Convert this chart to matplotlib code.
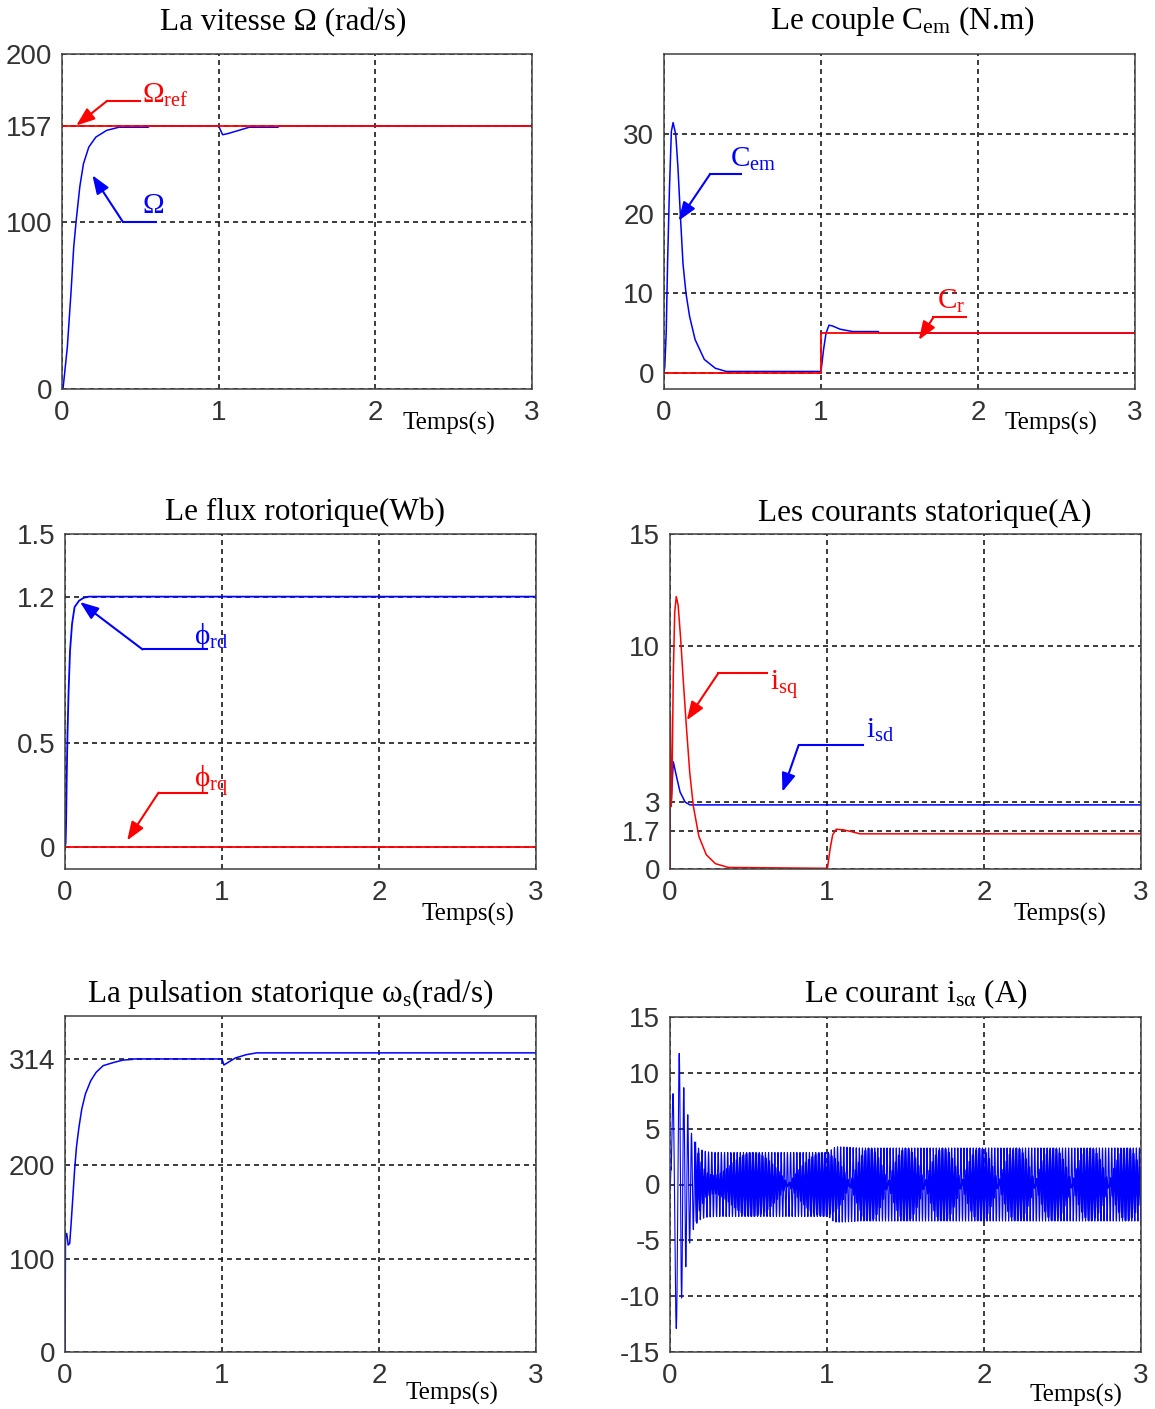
import numpy as np
import matplotlib
matplotlib.use('Agg')
import matplotlib.pyplot as plt

plt.rcParams['mathtext.fontset'] = 'custom'
plt.rcParams['mathtext.rm'] = 'Liberation Serif'
plt.rcParams['mathtext.it'] = 'Liberation Serif:italic'
plt.rcParams['mathtext.bf'] = 'Liberation Serif:bold'
plt.rcParams['axes.unicode_minus'] = False

# vitesse mesuree et reference (rad/s)
t_vit = [0, 0.007, 0.034, 0.057, 0.075, 0.091, 0.114, 0.137, 0.171, 0.216, 0.285, 0.364,
         0.55, 0.56, 0.995, 1.0, 1.025, 1.06, 1.128, 1.196, 1.378, 1.39, 3.0]
vit = [0, 0.6, 25, 57, 85, 101, 121, 134.5, 144.4, 150.4, 154.4, 156.3,
       156.3, 157, 157, 157, 151.8, 152.5, 154.4, 156.3, 156.3, 157, 157]
t_vit_ref = [0, 3.0]
vit_ref = [157, 157]

# couple electromagnetique et couple resistant (N.m)
t_cem = [0, 0.005, 0.014, 0.023, 0.035, 0.047, 0.058, 0.075, 0.089, 0.105, 0.121, 0.140,
         0.163, 0.198, 0.257, 0.327, 0.397, 1.0, 1.016, 1.032, 1.051, 1.074, 1.121, 1.202,
         1.366, 1.37, 3.0]
cem = [0, 0.8, 5, 14, 23.3, 30.3, 31.4, 29.9, 25.7, 19.5, 13.7, 10,
       7.1, 4.2, 1.7, 0.6, 0.2, 0.2, 2.9, 5, 6, 5.9, 5.5, 5.2,
       5.2, 5.0, 5.0]
t_cr = [0, 1.0, 1.0, 3.0]
cr = [0, 0, 5, 5]

# flux rotorique (Wb)
t_phi_rd = [0, 0.004, 0.007, 0.011, 0.016, 0.023, 0.032, 0.045, 0.061, 0.089, 0.118, 0.152, 3.0]
phi_rd = [0, 0.02, 0.115, 0.338, 0.545, 0.75, 0.94, 1.07, 1.15, 1.18, 1.194, 1.2, 1.2]
t_phi_rq = [0, 3.0]
phi_rq = [0, 0]

# courants statoriques dans le repere (d,q) (A)
t_isq = [0, 0.002, 0.008, 0.012, 0.021, 0.03, 0.04, 0.052, 0.068, 0.084, 0.103, 0.126,
         0.149, 0.184, 0.231, 0.289, 0.371, 1.0, 1.003, 1.019, 1.036, 1.059, 1.106, 1.152,
         1.21, 3.0]
isq = [0, 6.9, 2.8, 3.5, 8.7, 11.5, 12.2, 11.8, 10.3, 8.5, 6.5, 4.3,
       2.8, 1.46, 0.64, 0.24, 0.07, 0.03, 0.04, 0.86, 1.53, 1.78, 1.75, 1.68,
       1.575, 1.575]
t_isd = [0, 0.002, 0.006, 0.021, 0.042, 0.064, 0.096, 0.127, 3.0]
isd = [0, 3.5, 2.8, 4.8, 4.12, 3.45, 3.0, 2.87, 2.87]

# pulsation statorique (rad/s)
t_ws = [0, 0.003, 0.011, 0.02, 0.03, 0.039, 0.05, 0.061, 0.073, 0.089, 0.107, 0.13,
        0.164, 0.198, 0.243, 0.312, 0.37, 0.43, 0.44, 1.0, 1.012, 1.039, 1.085, 1.153,
        1.221, 3.0]
ws = [0, 123, 127, 114.6, 116.4, 137.7, 166, 194.7, 219.6, 241, 260.5, 276.5,
      290.7, 299.6, 306.8, 310.3, 312.8, 313.5, 314, 314, 307.5, 310.3, 315, 318.5,
      320.5, 320.5]
theta0 = -2.8          # angle initial du repere tournant (rad)
dt_ech = 0.01023       # pas d'enregistrement de isa (s)
t_creux = 0.744        # instant d'un creux du trace echantillonne (s)

# graduations
ticks_t = [0, 1, 2, 3]
yt_vit = [0, 100, 157, 200]
yt_cem = [0, 10, 20, 30]
yt_phi = [0, 0.5, 1.2, 1.5]
yt_is = [0, 1.7, 3, 10, 15]
yt_ws = [0, 100, 200, 314]
yt_isa = [-15, -10, -5, 0, 5, 10, 15]

W, H = 1155, 1409
BLEU = '#0000ff'
ROUGE = '#ff0000'
SERIF = ['Liberation Serif', 'DejaVu Serif']
SANS = ['Liberation Sans Narrow', 'Liberation Sans']

fig = plt.figure(figsize=(W / 100, H / 100), dpi=100)


def boite(x0, x1, yh, yb):
    return [x0 / W, 1 - yb / H, (x1 - x0) / W, (yb - yh) / H]


def preparer(rect, ylim, yticks, ylabels=None):
    ax = fig.add_axes(rect)
    ax.set_xlim(0, 3)
    ax.set_ylim(*ylim)
    ax.set_xticks(ticks_t)
    ax.set_yticks(yticks)
    if ylabels is not None:
        ax.set_yticklabels(ylabels)
    ax.tick_params(length=0, labelsize=20, colors='0.2')
    ax.tick_params(axis='y', pad=7)
    ax.tick_params(axis='x', pad=8)
    for lab in ax.get_xticklabels() + ax.get_yticklabels():
        lab.set_family(SANS)
    ax.grid(True, color='0.1', lw=1.2, linestyle=(0, (3, 2.4)))
    ax.set_axisbelow(True)
    for s in ax.spines.values():
        s.set_color('0.25')
        s.set_linewidth(1.1)
    return ax


def texte_fig(x, y, s, size, **kw):
    fig.text(x / W, 1 - y / H, s, fontsize=size, family=SERIF, va='baseline', **kw)


def fleche(ax, s, pos, bout, coude, pointe, couleur):
    ax.plot([bout[0], coude[0]], [coude[1], coude[1]], color=couleur, lw=1.5)
    ax.annotate('', xy=pointe, xytext=coude,
                arrowprops=dict(arrowstyle='-|>,head_length=0.8,head_width=0.3',
                                color=couleur, lw=1.5, shrinkA=0, shrinkB=0,
                                mutation_scale=14))
    ax.text(pos[0], pos[1], s, color=couleur, fontsize=21, family=SERIF,
            ha='left', va='baseline')


# 1 - vitesse
ax1 = preparer(boite(62, 532, 54, 389), (0, 200), yt_vit)
ax1.plot(t_vit, vit, color=BLEU, lw=1.1)
ax1.plot(t_vit_ref, vit_ref, color=ROUGE, lw=1.3)
fleche(ax1, 'Ω$_{\\mathrm{ref}}$', (0.513, 171.0), (0.501, 0), (0.285, 171.8), (0.091, 157.3), ROUGE)
fleche(ax1, 'Ω', (0.513, 104.8), (0.597, 0), (0.387, 100.0), (0.194, 127.6), BLEU)
texte_fig(283, 30, 'La vitesse Ω (rad/s)', 22.5, ha='center')
texte_fig(449, 430, 'Temps(s)', 18, ha='center')

# 2 - couple
ax2 = preparer(boite(664, 1135, 54, 389), (-2, 40), yt_cem)
ax2.plot(t_cem, cem, color=BLEU, lw=1.1)
ax2.plot(t_cr, cr, color=ROUGE, lw=1.3)
fleche(ax2, 'C$_{\\mathrm{em}}$', (0.42, 25.9), (0.49, 0), (0.292, 24.9), (0.093, 19.1), BLEU)
fleche(ax2, 'C$_{\\mathrm{r}}$', (1.739, 8.1), (1.926, 0), (1.716, 6.98), (1.623, 4.15), ROUGE)
texte_fig(902, 29, 'Le couple C$_{\\mathrm{em}}$ (N.m)', 22.5, ha='center')
texte_fig(1051, 430, 'Temps(s)', 18, ha='center')

# 3 - flux
ax3 = preparer(boite(65, 536, 534, 869), (-0.105, 1.5), yt_phi, ['0', '0.5', '1.2', '1.5'])
ax3.plot(t_phi_rd, phi_rd, color=BLEU, lw=1.3)
ax3.plot(t_phi_rq, phi_rq, color=ROUGE, lw=1.3)
fleche(ax3, 'ϕ$_{\\mathrm{rd}}$', (0.823, 0.975), (0.903, 0), (0.494, 0.947), (0.0955, 1.174), BLEU)
fleche(ax3, 'ϕ$_{\\mathrm{rq}}$', (0.823, 0.282), (0.903, 0), (0.596, 0.261), (0.396, 0.032), ROUGE)
texte_fig(305, 520, 'Le flux rotorique(Wb)', 22.5, ha='center')
texte_fig(468, 921, 'Temps(s)', 18, ha='center')

# 4 - courants isd, isq
ax4 = preparer(boite(670, 1141, 534, 869), (0, 15), yt_is, ['0', '1.7', '3', '10', '15'])
ax4.plot(t_isd, isd, color=BLEU, lw=1.1)
ax4.plot(t_isq, isq, color=ROUGE, lw=1.1)
fleche(ax4, 'i$_{\\mathrm{sq}}$', (0.639, 8.02), (0.616, 0), (0.308, 8.77), (0.107, 6.66), ROUGE)
fleche(ax4, 'i$_{\\mathrm{sd}}$', (1.246, 5.88), (1.229, 0), (0.819, 5.54), (0.716, 3.46), BLEU)
texte_fig(925, 521, 'Les courants statorique(A)', 22.5, ha='center')
texte_fig(1060, 921, 'Temps(s)', 18, ha='center')

# 5 - pulsation statorique
ax5 = preparer(boite(65, 536, 1016, 1352), (0, 360), yt_ws)
ax5.plot(t_ws, ws, color=BLEU, lw=1.1)
texte_fig(290, 1002, 'La pulsation statorique ω$_{\\mathrm{s}}$(rad/s)', 22.5, ha='center')
texte_fig(452, 1400, 'Temps(s)', 18, ha='center')

# 6 - courant isa : Park inverse des courants (d,q) avec l'angle integre de ws
dt = 1e-4
tt = np.arange(0, 3.0, dt)
theta = theta0 + np.cumsum(np.interp(tt, t_ws, ws)) * dt


def i_alpha(t):
    th = np.interp(t, tt, theta)
    return np.interp(t, t_isd, isd) * np.cos(th) - np.interp(t, t_isq, isq) * np.sin(th)


isa = i_alpha(tt)

# trace enregistre au pas dt_ech, recale pour que le creux tombe a t_creux
ph = np.interp(t_creux, tt, theta) + np.arctan2(np.interp(t_creux, t_isq, isq),
                                                 np.interp(t_creux, t_isd, isd))
s0 = t_creux + ((np.pi / 2 - ph) % np.pi) / np.interp(t_creux, t_ws, ws)
t0 = s0 - dt_ech * np.floor((s0 - 0.15) / dt_ech)
t_ech = np.arange(t0, 3.0, dt_ech)
isa_ech = i_alpha(t_ech)

ax6 = preparer(boite(670, 1141, 1017, 1352), (-15, 15), yt_isa)
ax6.plot(tt, isa, color=BLEU, lw=0.8)
ax6.plot(t_ech, isa_ech, color=BLEU, lw=1.6, solid_joinstyle='miter')
texte_fig(916, 1002, 'Le courant i$_{\\mathrm{s\\alpha}}$ (A)', 22.5, ha='center')
texte_fig(1076, 1402, 'Temps(s)', 18, ha='center')

fig.savefig('out.png', dpi=100)
